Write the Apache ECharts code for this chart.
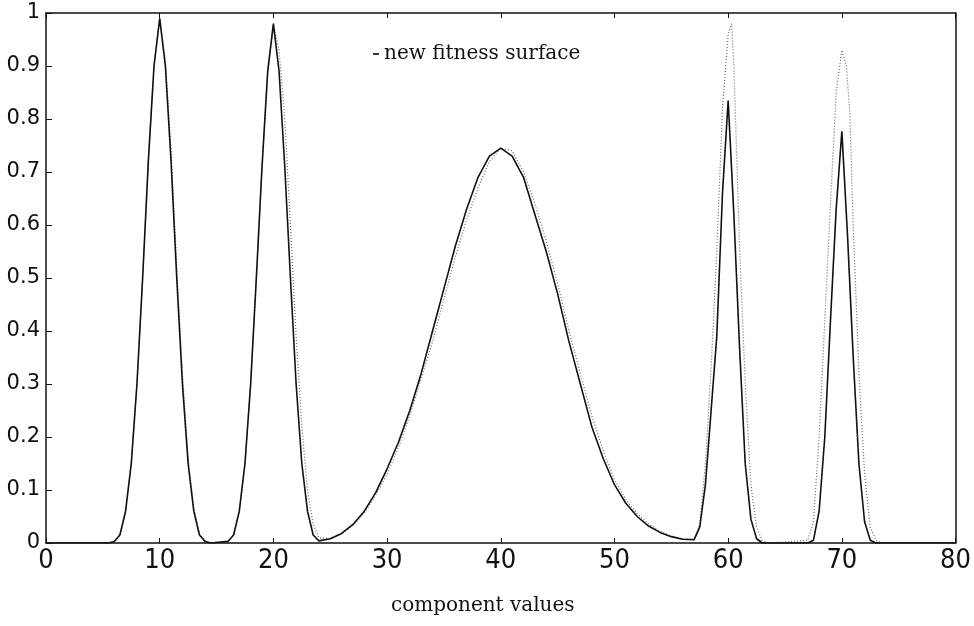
<!DOCTYPE html>
<html><head><meta charset="utf-8">
<script src="https://cdn.jsdelivr.net/npm/echarts@6/dist/echarts.min.js"></script>
<style>html,body{margin:0;padding:0;background:#fff}#c{width:974px;height:626px}</style>
</head><body><div id="c"></div>
<script>
// old fitness surface (solid)
const oldX = [0,5.5,6,6.5,7,7.5,8,8.5,9,9.5,10,10.5,11,11.5,12,12.5,13,13.5,14,14.5,
  16,16.5,17,17.5,18,18.5,19,19.5,20,20.5,21,21.5,22,22.5,23,23.5,
  24,25,26,27,28,29,30,31,32,33,34,35,36,37,38,39,40,
  41,42,43,44,45,46,47,48,49,50,51,52,53,54,55,56,57,
  57.5,58,58.5,59,59.5,60,60.5,61,61.5,62,62.5,63,
  67,67.5,68,68.5,69,69.5,70,70.5,71,71.5,72,72.5,73,80];
const oldY = [0,0,0.003,0.015,0.06,0.15,0.3,0.5,0.72,0.9,0.99,0.9,0.72,0.5,0.3,0.15,0.06,0.015,0.003,0,
  0.003,0.015,0.06,0.15,0.3,0.5,0.71,0.89,0.98,0.89,0.71,0.5,0.3,0.15,0.06,0.015,
  0.004,0.008,0.018,0.035,0.06,0.095,0.14,0.19,0.25,0.32,0.40,0.48,0.56,0.63,0.69,0.73,0.745,
  0.73,0.69,0.62,0.55,0.47,0.38,0.30,0.22,0.16,0.11,0.075,0.05,0.032,0.02,0.012,0.007,0.006,
  0.03,0.11,0.25,0.39,0.66,0.835,0.62,0.37,0.15,0.045,0.008,0,
  0,0.005,0.06,0.2,0.42,0.63,0.777,0.58,0.35,0.15,0.04,0.005,0,0];
// new fitness surface (dotted)
const newX = [0,5.5,6,6.5,7,7.5,8,8.5,9,9.5,10,10.5,11,11.5,12,12.5,13,13.5,14,14.5,
  16,16.5,17,17.5,18,18.5,19,19.5,20,20.5,21,21.5,22,22.5,23,23.5,24,
  25,26,27,28,29,30,31,32,33,34,35,36,37,38,39,40,
  41,42,43,44,45,46,47,48,49,50,51,52,53,54,55,56,57,
  57.5,58,58.5,59,59.5,60,60.3,60.5,61,61.5,62,62.5,63,63.5,
  67,67.5,68,68.5,69,69.5,70,70.4,70.7,71,71.5,72,72.5,73,73.5,80];
const newY = [0,0,0.003,0.015,0.06,0.15,0.3,0.5,0.72,0.9,0.99,0.91,0.74,0.52,0.32,0.16,0.065,0.017,0.003,0,
  0.003,0.015,0.06,0.15,0.3,0.5,0.71,0.89,0.975,0.93,0.8,0.6,0.39,0.22,0.1,0.035,0.01,
  0.008,0.017,0.033,0.057,0.09,0.13,0.18,0.24,0.31,0.38,0.46,0.54,0.61,0.67,0.72,0.745,
  0.74,0.70,0.64,0.57,0.49,0.40,0.32,0.24,0.175,0.12,0.082,0.055,0.036,0.022,0.013,0.008,0.007,
  0.035,0.15,0.33,0.55,0.82,0.96,0.98,0.9,0.56,0.3,0.11,0.03,0.005,0,
  0.005,0.04,0.2,0.42,0.64,0.85,0.93,0.9,0.81,0.6,0.32,0.13,0.03,0.005,0,0];
const xTicks = [0,10,20,30,40,50,60,70,80];
const yTickLabels = ['0','0.1','0.2','0.3','0.4','0.5','0.6','0.7','0.8','0.9','1'];

const pair = (xs, ys) => xs.map((x, i) => [x, ys[i]]);
const chart = echarts.init(document.getElementById('c'), null, {renderer: 'canvas'});
const axisCol = '#111';
chart.setOption({
  backgroundColor: '#fff',
  animation: false,
  grid: {left: 46, top: 13, right: 15, bottom: 83, containLabel: false},
  legend: {
    data: [{name: 'new fitness surface', icon: 'rect'}],
    left: 368, top: 39, itemWidth: 6, itemHeight: 2, itemGap: 6,
    textStyle: {fontFamily: 'DejaVu Serif', fontSize: 20, color: '#111'},
    selectedMode: false
  },
  xAxis: [{
    type: 'value', min: xTicks[0], max: xTicks[xTicks.length - 1], interval: 10, position: 'bottom',
    name: 'component values', nameLocation: 'middle', nameGap: 53,
    nameTextStyle: {fontFamily: 'DejaVu Serif', fontSize: 20, color: '#111', padding: [0, 36, 0, 0]},
    axisLine: {onZero: false, lineStyle: {color: axisCol, width: 1.5}},
    axisTick: {inside: true, length: 5, lineStyle: {color: axisCol}},
    axisLabel: {fontFamily: 'Liberation Sans Narrow, DejaVu Sans Condensed, sans-serif', fontSize: 27, color: '#111', margin: 4},
    splitLine: {show: false}
  }, {
    type: 'value', min: 0, max: 80, interval: 10, position: 'top',
    axisLine: {show: true, onZero: false, lineStyle: {color: axisCol, width: 1.5}},
    axisTick: {inside: true, length: 5, lineStyle: {color: axisCol}},
    axisLabel: {show: false}, splitLine: {show: false}
  }],
  yAxis: [{
    type: 'value', min: 0, max: 1, interval: 0.1,
    axisLine: {onZero: false, lineStyle: {color: axisCol, width: 1.5}},
    axisTick: {inside: true, length: 6, lineStyle: {color: axisCol}},
    axisLabel: {fontFamily: 'DejaVu Sans', fontSize: 21, color: '#111', margin: 6,
      formatter: (v) => yTickLabels[Math.round(v * 10)]},
    splitLine: {show: false}
  }, {
    type: 'value', min: 0, max: 1, interval: 0.1, position: 'right',
    axisLine: {show: true, onZero: false, lineStyle: {color: axisCol, width: 1.5}},
    axisTick: {show: false}, axisLabel: {show: false}, splitLine: {show: false}
  }],
  series: [{
    name: 'old fitness surface', type: 'line', data: pair(oldX, oldY), showSymbol: false,
    lineStyle: {color: '#111', width: 1.6}, z: 3
  }, {
    name: 'new fitness surface', type: 'line', data: pair(newX, newY), showSymbol: false,
    itemStyle: {color: '#333'},
    lineStyle: {color: '#666', width: 1.2, type: [1, 2]}, z: 2
  }]
});
</script></body></html>
